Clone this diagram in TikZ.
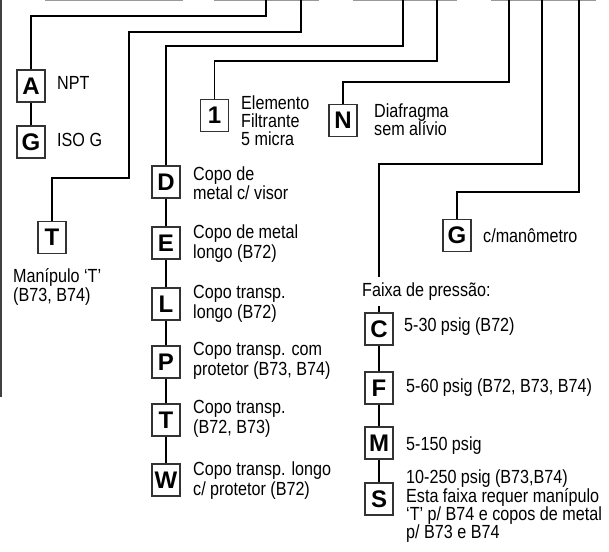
\documentclass[tikz,border=0pt]{standalone}
\usepackage{fontspec}
\setmainfont{Liberation Sans}
\newfontfamily\cnd{Liberation Sans}[FakeStretch=0.85]
\begin{document}
\begin{tikzpicture}[x=1pt,y=-1pt,
  conn/.style={line width=1.2pt, black},
  lbox/.style={draw=black!80, line width=1.1pt, fill=white, minimum width=28pt, minimum height=32pt, inner sep=0pt, font=\fontsize{24}{24}\selectfont\bfseries},
  lbl/.style={anchor=base west, inner sep=0pt, font=\cnd\fontsize{19}{20}\selectfont},
  rim/.style={line width=1.5pt, black!40}]
\useasboundingbox (0,0) rectangle (609,551);
% cut-off frame remnants
\draw[rim] (45,0.75) -- (183,0.75);
\draw[rim] (214,0.75) -- (319,0.75);
\draw[rim] (353,0.75) -- (457,0.75);
\draw[rim] (491,0.75) -- (596,0.75);
\draw[line width=1.3pt, black!75] (1,0) -- (1,397);
% top anchors
\coordinate (t1) at (266,0);
\coordinate (t2) at (301,0);
\coordinate (t3) at (403,0);
\coordinate (t4) at (437,0);
\coordinate (t5) at (509,0);
\coordinate (t6) at (542,0);
\coordinate (t7) at (579,0);
% boxes
\node[lbox] (A) at (31,86) {A};
\node[lbox] (G1) at (31,142) {G};
\node[lbox] (T1) at (52,237.5) {T};
\node[lbox] (one) at (214.5,115.5) {1};
\node[lbox] (N) at (343,120.5) {N};
\node[lbox] (G2) at (457,235.5) {G};
\node[lbox] (C) at (379,329) {C};
\node[lbox] (F) at (379,388) {F};
\node[lbox] (M) at (379,443) {M};
\node[lbox] (S) at (379,499) {S};
\node[lbox] (D) at (166,182) {D};
\node[lbox] (E) at (166,243) {E};
\node[lbox] (L) at (166,304) {L};
\node[lbox] (P) at (166,362) {P};
\node[lbox] (T2) at (166,420) {T};
\node[lbox] (W) at (166,480) {W};
% labels
\node[lbl] (npt) at (57,89) {NPT};
\node[lbl] (isog) at (57,146) {ISO G};
\node[lbl] (man1) at (13,282) {Manípulo ‘T’};
\node[lbl] (man2) at (13,301) {(B73, B74)};
\node[lbl] (el1) at (241,109) {Elemento};
\node[lbl] (el2) at (241,127) {Filtrante};
\node[lbl] (el3) at (241,145) {5 micra};
\node[lbl] (dia1) at (374,117) {Diafragma};
\node[lbl] (dia2) at (374,135) {sem alívio};
\node[lbl] (gman) at (483,242) {c/manômetro};
\node[lbl] (faixa) at (362,296) {Faixa de pressão:};
\node[lbl] (ctx) at (404,331) {5-30 psig (B72)};
\node[lbl] (ftx) at (406,392) {5-60 psig (B72, B73, B74)};
\node[lbl] (mtx) at (406,450) {5-150 psig};
\node[lbl] (s1) at (406,483) {10-250 psig (B73,B74)};
\node[lbl] (s2) at (406,502) {Esta faixa requer manípulo};
\node[lbl] (s3) at (406,520) {‘T’ p/ B74 e copos de metal};
\node[lbl] (s4) at (406,538) {p/ B73 e B74};
\node[lbl] (d1) at (193,180) {Copo de};
\node[lbl] (d2) at (193,199) {metal c/ visor};
\node[lbl] (e1) at (193,238) {Copo de metal};
\node[lbl] (e2) at (193,258) {longo (B72)};
\node[lbl] (l1) at (193,298) {Copo transp.};
\node[lbl] (l2) at (193,318) {longo (B72)};
\node[lbl] (p1) at (193,355) {Copo transp. com};
\node[lbl] (p2) at (193,375) {protetor (B73, B74)};
\node[lbl] (tt1) at (193,413) {Copo transp.};
\node[lbl] (tt2) at (193,433) {(B72, B73)};
\node[lbl] (w1) at (193,475) {Copo transp. longo};
\node[lbl] (w2) at (193,495) {c/ protetor (B72)};
% connectors
\draw[conn] (t1) -- (266,16) -| (A.north);
\draw[conn] (A.south) -- (G1.north);
\draw[conn] (t2) -- (301,32) -- (129,32) -- (129,178) -| (T1.north);
\draw[conn] (t3) -- (403,46) -| (D.north);
\draw[conn] (t4) -- (437,61) -| (one.north);
\draw[conn] (t5) -- (509,82) -| (N.north);
\draw[conn] (t6) -- (542,164) -| (379,277);
\draw[conn] (C.north) -- ++(0,-6);
\draw[conn] (t7) -- (579,192) -| (G2.north);
\draw[conn] (C.south) -- (F.north);
\draw[conn] (F.south) -- (M.north);
\draw[conn] (M.south) -- (S.north);
\draw[conn] (D.south) -- (E.north);
\draw[conn] (E.south) -- (L.north);
\draw[conn] (L.south) -- (P.north);
\draw[conn] (P.south) -- (T2.north);
\draw[conn] (T2.south) -- (W.north);
\end{tikzpicture}
\end{document}
